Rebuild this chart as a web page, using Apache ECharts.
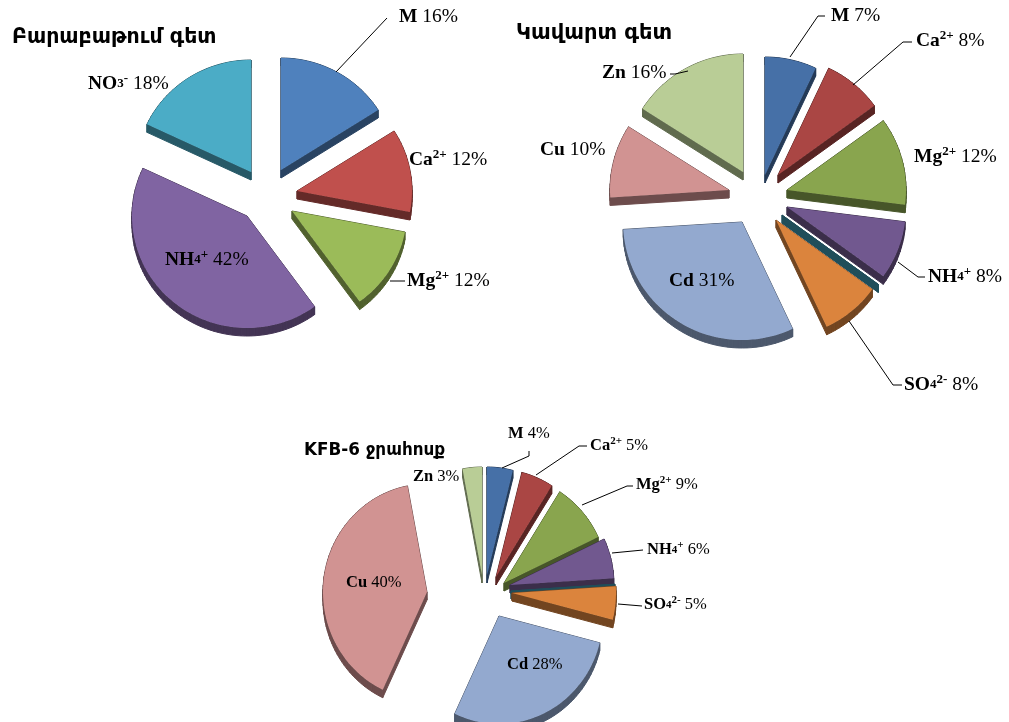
<!DOCTYPE html>
<html>
<head>
<meta charset="utf-8">
<title>Իոնների բաշխում</title>
<script src="https://cdn.jsdelivr.net/npm/echarts@6/dist/echarts.min.js"></script>
<style>html,body{margin:0;padding:0;background:#fff}#c{width:1009px;height:722px}</style>
</head>
<body>
<div id="c"></div>
<script>
// Ion shares, in percent, clockwise from twelve o'clock
const ions1 = ['M', 'Ca', 'Mg', 'NH4', 'NO3'];
const values1 = [16, 12, 12, 42, 18];
const ions2 = ['M', 'Ca', 'Mg', 'NH4', 'NO3', 'SO4', 'Cd', 'Cu', 'Zn'];
const values2 = [7, 8, 12, 8, 0, 8, 31, 10, 16];
const ions3 = ['M', 'Ca', 'Mg', 'NH4', 'NO3', 'SO4', 'Cd', 'Cu', 'Zn'];
const values3 = [4, 5, 9, 6, 0, 5, 28, 40, 3];

const titles = ['Բարաբաթում գետ', 'Կավարտ գետ', 'KFB-6 ջրահոսք'];

const ionText = {
  M: '{b|M}', Ca: '{b|Ca}{s|2+}', Mg: '{b|Mg}{s|2+}', NH4: '{b|NH}{m|4}{s|+}',
  NO3: '{b|NO}{m|3}{s|-}', SO4: '{b|SO}{m|4}{s|2-}', Cd: '{b|Cd}', Cu: '{b|Cu}', Zn: '{b|Zn}'
};

// Pie geometry and slice styling
const palette1 = ['#4f81bd', '#c0504d', '#9bbb59', '#8064a2', '#4bacc6'];
const palette2 = ['#4670a7', '#aa4644', '#89a54e', '#71588f', '#3d96ae', '#db843d', '#93a9cf', '#d19392', '#b9cd96'];

const pies = [
  {
    ions: ions1, values: values1, palette: palette1,
    cx: 266, cy: 195, rx: 115, ry: 112, depth: 8, fontSize: 19.5,
    explode: [[15, -25], [31, -4], [26, 16], [-19, 21], [-15, -23]],
    labelAt: [[399, 17], [409, 160], [407, 281], [165, 260], [88, 84]],
    leaders: [[[336, 72], [387, 18]], null, [[390, 281], [405, 281]], null, null]
  },
  {
    ions: ions2, values: values2, palette: palette2,
    cx: 757, cy: 198, rx: 119, ry: 118, depth: 8, fontSize: 19.5,
    explode: [[8, -23], [21, -23], [30, -8], [30, 9], [25, 17], [19, 22], [-15, 24], [-28, -8], [-14, -26]],
    labelAt: [[831, 16], [916, 41], [914, 157], [928, 277], null, [904, 385], [669, 281], [540, 150], [602, 73]],
    leaders: [
      [[790, 57], [818, 16], [825, 16]], [[853, 85], [903, 42], [912, 42]], null,
      [[898, 262], [918, 277], [925, 277]], null, [[849, 321], [893, 385], [902, 385]],
      null, null, [[688, 71], [675, 74], [670, 74]]
    ]
  },
  {
    ions: ions3, values: values3, palette: palette2,
    cx: 490, cy: 590, rx: 104, ry: 108, depth: 8, fontSize: 16.5,
    explode: [[-3, -15], [6, -13], [14, -7], [20, -5], [21, 1], [22, 3], [9, 26], [-63, 2], [-8, -15]],
    labelAt: [[508, 434], [590, 446], [636, 485], [647, 550], null, [644, 605], [507, 665], [346, 583], [413, 477]],
    leaders: [
      [[502, 468], [529, 456], [529, 451]], [[536, 475], [579, 446], [587, 446]],
      [[582, 505], [627, 486], [633, 486]], [[612, 553], [643, 550]], null,
      [[618, 604], [642, 606]], null, null, null
    ]
  }
];

const titleBoxes = [
  { left: 12, top: 27, fontSize: 20.5 },
  { left: 516, top: 23, fontSize: 21 },
  { left: 304, top: 442, fontSize: 16.8 }
];

function darken(hex, k) {
  const n = parseInt(hex.slice(1), 16);
  const c = [n >> 16, (n >> 8) & 255, n & 255].map(v => Math.round(v * k));
  return 'rgb(' + c.join(',') + ')';
}

// A slice is an apex plus points along its elliptical rim, lifted over a dark wall
function sliceSeries(pie) {
  const total = pie.values.reduce((a, b) => a + b, 0);
  return {
    type: 'custom',
    coordinateSystem: 'none',
    z: 2,
    silent: true,
    animation: false,
    data: pie.values.map(v => [v]),
    renderItem(params, api) {
      const i = params.dataIndex;
      const before = pie.values.slice(0, i).reduce((a, b) => a + b, 0);
      const a0 = before / total * 2 * Math.PI;
      const a1 = (before + api.value(0)) / total * 2 * Math.PI;
      const ox = pie.cx + pie.explode[i][0];
      const oy = pie.cy + pie.explode[i][1];
      const pts = [[ox, oy]];
      const steps = Math.max(1, Math.ceil((a1 - a0) / 0.04));
      for (let s = 0; s <= steps; s++) {
        const a = a0 + (a1 - a0) * s / steps;
        pts.push([ox + pie.rx * Math.sin(a), oy - pie.ry * Math.cos(a)]);
      }
      const wall = darken(pie.palette[i], 0.52);
      const children = [];
      for (let k = 0; k < pts.length; k++) {
        const p = pts[k], q = pts[(k + 1) % pts.length];
        children.push({
          type: 'polygon',
          shape: { points: [p, q, [q[0], q[1] + pie.depth], [p[0], p[1] + pie.depth]] },
          style: { fill: wall, stroke: wall, lineWidth: 1 }
        });
      }
      children.push({
        type: 'polygon',
        shape: { points: pts },
        style: { fill: pie.palette[i] }
      });
      return { type: 'group', children };
    }
  };
}

// Value labels and their leader lines sit above every slice
function labelSeries(pie) {
  const fs = pie.fontSize;
  const small = Math.round(fs * 0.68);
  const family = '"Liberation Serif", "Times New Roman", serif';
  const rich = {
    b: { fontFamily: family, fontSize: fs, fontWeight: 'bold', fill: '#000', lineHeight: fs + 4 },
    r: { fontFamily: family, fontSize: fs, fill: '#000', lineHeight: fs + 4 },
    s: { fontFamily: family, fontSize: small, fontWeight: 'bold', fill: '#000', lineHeight: small, verticalAlign: 'top' },
    m: { fontFamily: family, fontSize: small, fontWeight: 'bold', fill: '#000', lineHeight: fs + 4 }
  };
  return {
    type: 'custom',
    coordinateSystem: 'none',
    z: 3,
    silent: true,
    animation: false,
    data: pie.values.map(v => [v]),
    renderItem(params, api) {
      const i = params.dataIndex;
      const children = [];
      const line = pie.leaders[i];
      if (line) {
        children.push({
          type: 'polyline',
          shape: { points: line },
          style: { stroke: '#000', lineWidth: 1, fill: null }
        });
      }
      const at = pie.labelAt[i];
      if (at) {
        children.push({
          type: 'text',
          style: {
            x: at[0], y: at[1],
            text: ionText[pie.ions[i]] + '{r| ' + api.value(0) + '%}',
            rich, align: 'left', verticalAlign: 'middle'
          }
        });
      }
      return { type: 'group', children };
    }
  };
}

const chart = echarts.init(document.getElementById('c'), null, { renderer: 'canvas' });
chart.setOption({
  animation: false,
  backgroundColor: '#fff',
  title: titles.map((text, i) => ({
    text,
    left: titleBoxes[i].left,
    top: titleBoxes[i].top,
    padding: 0,
    textStyle: {
      fontFamily: '"DejaVu Sans", sans-serif',
      fontWeight: 'bold',
      fontSize: titleBoxes[i].fontSize,
      color: '#000'
    }
  })),
  series: pies.map(sliceSeries).concat(pies.map(labelSeries))
});
</script>
</body>
</html>
